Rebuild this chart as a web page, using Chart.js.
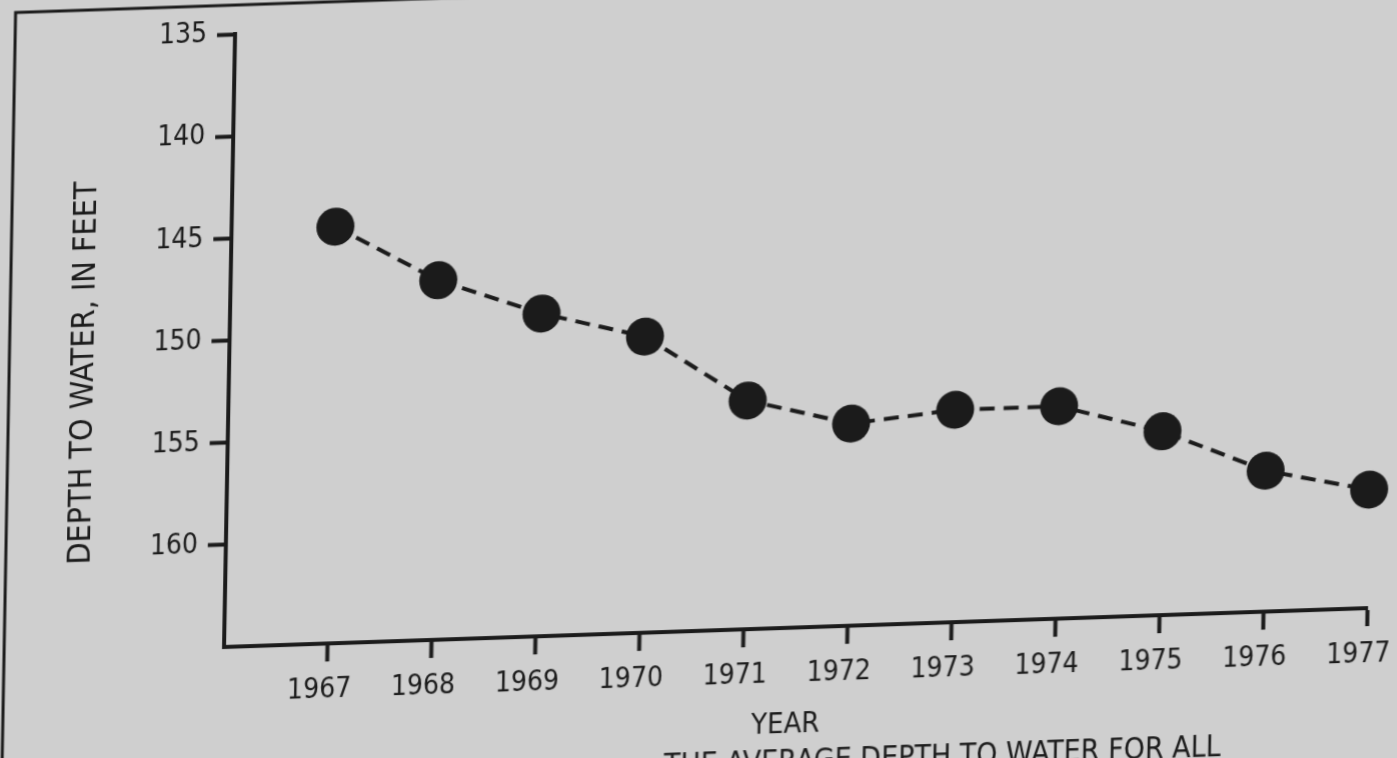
<!DOCTYPE html>
<html>
<head>
<meta charset="utf-8">
<script src="https://cdn.jsdelivr.net/npm/chart.js@4.4.1/dist/chart.umd.min.js"></script>
<style>
  html, body { margin: 0; padding: 0; width: 1397px; height: 758px; overflow: hidden; background: #cfcfcf; }
  /* the scanned page is slightly skewed, so the whole sheet is sheared around the axis origin */
  #sheet { position: absolute; left: 0; top: 0; width: 1440px; height: 830px;
           transform-origin: 224px 647px; transform: matrix(1, -0.034, -0.018, 1, 0, 0); }
  canvas { display: block; }
</style>
</head>
<body>
<div id="sheet"><canvas id="chart" width="1440" height="830" style="width:1440px;height:830px"></canvas></div>
<script>
const years = [1967, 1968, 1969, 1970, 1971, 1972, 1973, 1974, 1975, 1976, 1977];
const depthToWater = [144.6, 147.4, 149.2, 150.5, 153.8, 155.1, 154.6, 154.6, 156.0, 158.1, 159.2];
const depthTicks = [135, 140, 145, 150, 155, 160];

const yTitle = "DEPTH TO WATER, IN FEET";
const xTitle = "YEAR";
const caption = "THE AVERAGE DEPTH TO WATER FOR ALL";

const INK = "#1b1b1b";
const FONT = "'DejaVu Sans Condensed', 'DejaVu Sans', sans-serif";

const sheetDecor = {
    id: "sheetDecor",
    beforeDraw(chart) {
        const ctx = chart.ctx;
        ctx.save();
        ctx.strokeStyle = INK;
        ctx.lineWidth = 3;
        ctx.beginPath();
        ctx.moveTo(4, chart.height);
        ctx.lineTo(4, 5);
        ctx.lineTo(chart.width, 5);
        ctx.stroke();
        ctx.restore();
    },
    afterDraw(chart) {
        const ctx = chart.ctx;
        ctx.save();
        ctx.fillStyle = INK;
        ctx.textAlign = "center";
        ctx.textBaseline = "middle";

        ctx.save();
        ctx.font = "32px " + FONT;
        ctx.translate(80, 368);
        ctx.rotate(-Math.PI / 2);
        ctx.fillText(yTitle, 0, 0);
        ctx.restore();

        ctx.font = "29px " + FONT;
        ctx.fillText(xTitle, 787, 744);

        ctx.font = "30px " + FONT;
        ctx.textAlign = "right";
        ctx.fillText(caption, 1223, 782);
        ctx.restore();
    }
};

const axisGrid = {
    display: true,
    drawOnChartArea: false,
    drawTicks: true,
    tickLength: 18,
    tickWidth: 4,
    tickColor: INK,
    color: INK
};

new Chart(document.getElementById("chart"), {
    type: "line",
    data: {
        datasets: [{
            data: years.map((y, i) => ({ x: y, y: depthToWater[i] })),
            borderColor: INK,
            borderWidth: 4,
            borderDash: [15, 9],
            tension: 0,
            pointRadius: 19,
            pointBackgroundColor: INK,
            pointBorderWidth: 0,
            clip: false
        }]
    },
    options: {
        responsive: false,
        devicePixelRatio: 1,
        animation: false,
        layout: { padding: { left: 0, top: 34, right: 73, bottom: 0 } },
        plugins: {
            legend: { display: false },
            tooltip: { enabled: false }
        },
        scales: {
            x: {
                type: "linear",
                min: 1966,
                max: 1977,
                afterBuildTicks: (scale) => { scale.ticks = years.map(v => ({ value: v })); },
                afterFit: (scale) => { scale.height = 830 - 647; },
                ticks: {
                    color: INK,
                    font: { family: FONT, size: 28 },
                    padding: 12,
                    labelOffset: -8,
                    maxRotation: 0,
                    autoSkip: false,
                    callback: (v) => String(v)
                },
                grid: axisGrid,
                border: { display: true, color: INK, width: 4 }
            },
            y: {
                type: "linear",
                reverse: true,
                min: 135,
                max: 165,
                afterBuildTicks: (scale) => { scale.ticks = depthTicks.map(v => ({ value: v })); },
                afterFit: (scale) => { scale.width = 224; },
                ticks: {
                    color: INK,
                    font: { family: FONT, size: 28 },
                    padding: 10,
                    autoSkip: false,
                    callback: (v) => String(v)
                },
                grid: axisGrid,
                border: { display: true, color: INK, width: 4 }
            }
        }
    },
    plugins: [sheetDecor]
});
</script>
</body>
</html>
